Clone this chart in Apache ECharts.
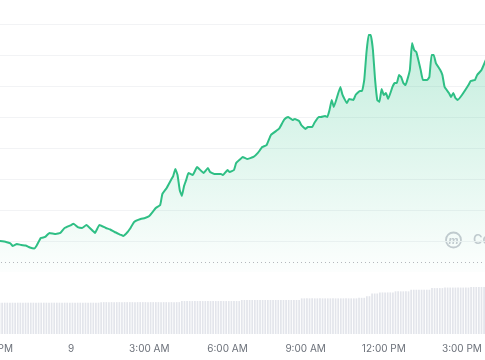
<!DOCTYPE html>
<html><head><meta charset="utf-8">
<script src="https://cdn.jsdelivr.net/npm/echarts@6/dist/echarts.min.js"></script>
<style>html,body{margin:0;padding:0;background:#fff}#c{width:485px;height:360px}</style>
</head><body><div id="c"></div>
<script>
// minutes relative to midnight of the 9th
const times = [-165,-150,-140,-135,-125,-115,-105,-95,-85,-80,-70,-60,-50,-35,-25,-15,0,5,15,25,35,50,55,65,80,90,100,115,120,130,135,145,160,170,180,195,205,210,220,230,235,240,245,250,255,260,265,270,280,290,305,315,320,330,345,350,360,365,375,380,390,395,405,420,430,440,450,460,475,480,490,495,500,510,515,525,530,540,545,555,560,570,575,585,590,595,600,605,620,625,635,640,650,655,665,670,675,680,685,690,695,700,705,710,715,720,725,730,740,745,750,755,760,765,770,780,785,790,795,805,810,820,825,830,835,840,850,855,860,870,875,880,885,890,900,915,920,930,935,945,955];
const prices = [40.00,39.94,39.85,39.68,39.81,39.74,39.71,39.58,39.52,39.68,40.19,40.26,40.52,40.45,40.52,40.84,41.03,41.12,40.90,40.84,41.03,40.65,40.52,41.03,40.84,40.74,40.58,40.39,40.32,40.58,40.77,41.23,41.42,41.48,41.61,42.13,42.32,43.03,43.42,43.94,44.19,44.65,44.26,43.29,42.90,43.55,43.94,44.39,44.26,44.77,44.39,44.71,44.45,44.32,44.32,44.26,44.58,44.45,44.58,45.03,45.29,45.42,45.29,45.42,45.68,46.06,46.19,46.84,47.16,47.29,47.81,47.94,48.00,47.81,47.87,47.74,47.48,47.23,47.35,47.35,47.61,48.00,48.00,48.06,48.00,48.45,49.10,48.65,49.94,49.42,48.90,49.16,49.10,49.42,49.68,49.68,50.39,52.13,53.29,53.29,52.32,50.39,49.10,48.97,49.81,49.42,49.55,49.16,49.94,50.19,50.19,50.71,50.58,50.19,50.06,51.03,52.77,52.32,52.19,51.03,50.39,50.39,50.58,52.00,52.00,51.48,51.03,50.71,49.94,49.55,49.29,49.55,49.23,49.10,49.42,50.06,50.32,50.39,50.71,51.03,51.68];
const openPrice = 38.65;
// volume bars, one every 6 minutes starting at -165
const volStart = -165, volStep = 6;
const volumes = [
58,58,58,58,58,58,58,58,58,58, 58,58,58,58,58,58,58,58,58,58, 58,58,58,58,58,58,58,58,58,58, 58,58,58,58,58,58,58,58,58,
59,59,59,59,59,59,59,59,59,59, 59,59,59,59,59,59,59,59,59,59, 59,59,59,59,59,59,59,59,59,59, 59,
61,61,61,61,61,61,61,61,61,61, 61,61,61,61,61,61,61,61,61,61, 61,61,61,
63,63,63,63,63,63,63,63,63,63, 63,63,63,63,63,63,63,63,63,63, 63,63,63,
66,66,66,66,66,66,66,66,66,66, 66,66,66,66,66,66,66,66,66,66, 66,66,
67,67,67, 70,70, 75,75,75, 77,77,77,77,77,77, 79,79,79,79,79,79,
82,82,82,82,82,82,82,82, 85,85,85,85,85,
86,86,86,86,86,86,86,86,86,86, 87,87,87,87,87,87];
const tickValues = [-180,0,180,360,540,720,900];
const tickLabels = ['9:00 PM','9','3:00 AM','6:00 AM','9:00 AM','12:00 PM','3:00 PM'];

const priceData = times.map((t,i)=>[t,prices[i]]);
const volData = volumes.map((v,i)=>[volStart+i*volStep, v]);

const chart = echarts.init(document.getElementById('c'), null, {renderer:'canvas'});
chart.setOption({
  animation:false,
  backgroundColor:'#fff',
  grid:[
    {left:-7,right:-3,top:24,bottom:88,outerBoundsMode:'none',containLabel:false},
    {left:-7,right:-3,top:280,bottom:26,outerBoundsMode:'none',containLabel:false}
  ],
  xAxis:[
    {gridIndex:0,type:'value',min:-180,max:960,show:false},
    {gridIndex:1,type:'value',min:-180,max:960,interval:180,
      axisLine:{show:false},axisTick:{show:false},splitLine:{show:false},
      axisLabel:{margin:10,color:'#6b7079',fontSize:10,hideOverlap:false,fontFamily:'Inter, "Liberation Sans", sans-serif',
        formatter:function(v){const k=tickValues.indexOf(v);return k<0?'':tickLabels[k];}}}
  ],
  yAxis:[
    {gridIndex:0,type:'value',min:38,max:54,interval:2,
      axisLabel:{show:false},axisLine:{show:false},axisTick:{show:false},
      splitLine:{show:true,showMinLine:false,lineStyle:{color:'#f2f3f5',width:1}}},
    {gridIndex:1,type:'value',min:0,max:100,show:false}
  ],
  series:[
    {type:'bar',xAxisIndex:1,yAxisIndex:1,data:volData,barWidth:1.7,
      itemStyle:{color:'#e3e5eb'},silent:true},
    {type:'line',xAxisIndex:0,yAxisIndex:0,data:priceData,showSymbol:false,symbol:'none',smooth:0.1,
      lineStyle:{color:'#2fbf85',width:2},
      areaStyle:{color:new echarts.graphic.LinearGradient(0,0,0,1,[
        {offset:0,color:'rgba(52,196,140,0.42)'},{offset:1,color:'rgba(52,196,140,0.02)'}])},
      markLine:{silent:true,symbol:'none',label:{show:false},
        lineStyle:{type:[1,3],color:'#b5b8bd',width:1},data:[{yAxis:openPrice}]}}
  ],
  graphic:[
    {type:'circle',shape:{cx:453.5,cy:240,r:7.5},style:{fill:'none',stroke:'#c8cbd2',lineWidth:1.8},silent:true},
    {type:'text',x:453.5,y:240.5,style:{text:'m',fill:'#c8cbd2',fontSize:11,fontWeight:700,fontStyle:'italic',fontFamily:'Inter, sans-serif',align:'center',verticalAlign:'middle'},silent:true},
    {type:'text',x:473,y:240.5,style:{text:'CoinGecko',fill:'#c8cbd2',fontSize:13,fontWeight:600,fontFamily:'Inter, sans-serif',verticalAlign:'middle'},silent:true}
  ]
});
</script></body></html>
